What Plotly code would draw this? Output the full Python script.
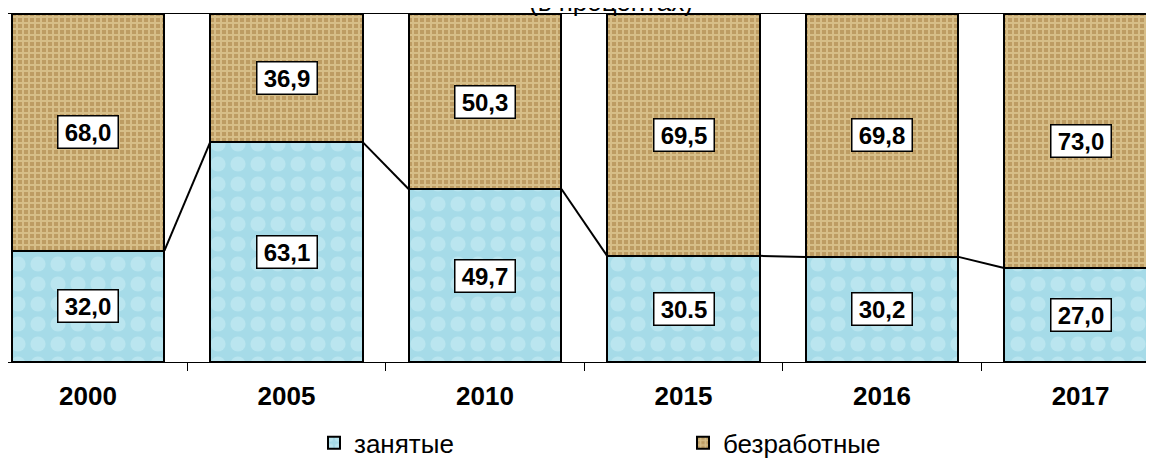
import plotly.graph_objects as go

# data
years = ["2000", "2005", "2010", "2015", "2016", "2017"]
employed = [32.0, 63.1, 49.7, 30.5, 30.2, 27.0]
unemployed = [68.0, 36.9, 50.3, 69.5, 69.8, 73.0]
employed_labels = ["32,0", "63,1", "49,7", "30.5", "30,2", "27,0"]
unemployed_labels = ["68,0", "36,9", "50,3", "69,5", "69,8", "73,0"]

BARGAP = 0.23
XRANGE = [-0.403, 5.37]
FONT = "Liberation Sans, Arial, sans-serif"

fig = go.Figure()

fig.add_trace(go.Bar(
    x=years, y=employed, name="занятые", legend="legend",
    marker=dict(color="#a6dbe8", line=dict(color="black", width=2),
                pattern=dict(shape=".", fgcolor="#cdeff6", bgcolor="#a6dbe8",
                             size=20, solidity=0.45, fillmode="overlay")),
))
fig.add_trace(go.Bar(
    x=years, y=unemployed, name="безработные", legend="legend2",
    marker=dict(color="#c2a263", line=dict(color="black", width=2),
                pattern=dict(shape="+", fgcolor="#f0dfae", bgcolor="#bd9c63",
                             size=6, solidity=0.55, fillmode="overlay")),
))

# series lines joining the tops of the lower segments
half = (1 - BARGAP) / 2
lx, ly = [], []
for i in range(len(years) - 1):
    lx += [i + half, i + 1 - half, None]
    ly += [employed[i], employed[i + 1], None]
fig.add_trace(go.Scatter(x=lx, y=ly, mode="lines", xaxis="x2",
                         line=dict(color="black", width=2),
                         showlegend=False, hoverinfo="skip"))

# boxed value labels (x given as category index)
box = dict(showarrow=False, bgcolor="white", bordercolor="black", borderwidth=1.5,
           borderpad=0, width=59, height=31, font=dict(size=24, color="black"))
for i in range(len(years)):
    fig.add_annotation(x=i, y=employed[i] / 2,
                       text="<b>%s</b>" % employed_labels[i], **box)
    fig.add_annotation(x=i, y=employed[i] + unemployed[i] / 2,
                       text="<b>%s</b>" % unemployed_labels[i], **box)

# title, mostly cut off at the top
fig.add_annotation(x=603 / 1146, y=1, xref="paper", yref="paper",
                   xanchor="center", yanchor="bottom", yshift=-5,
                   text="(в процентах)", showarrow=False,
                   font=dict(size=26, color="black"))

# page body adds an 8px offset, so the figure is 8px smaller each way
fig.update_layout(
    width=1146, height=452,
    margin=dict(l=0, r=0, t=6, b=98, autoexpand=False),
    barmode="stack", bargap=BARGAP,
    plot_bgcolor="white", paper_bgcolor="white",
    font=dict(family=FONT, color="black"),
    xaxis=dict(type="category", range=XRANGE, showline=True, linecolor="black",
               linewidth=1, mirror=True, ticks="outside", tickson="boundaries",
               ticklen=8, tickcolor="black", ticklabelstandoff=11,
               tickvals=years, ticktext=["<b>%s</b>" % y for y in years],
               tickfont=dict(size=26), showgrid=False, automargin=False),
    xaxis2=dict(overlaying="x", range=XRANGE, visible=False),
    yaxis=dict(range=[0, 100], visible=False, showgrid=False),
    legend=dict(orientation="h", x=0.267, y=-0.232, xanchor="left", yanchor="middle",
                font=dict(size=26), bgcolor="rgba(0,0,0,0)"),
    legend2=dict(orientation="h", x=0.589, y=-0.232, xanchor="left", yanchor="middle",
                 font=dict(size=26), bgcolor="rgba(0,0,0,0)"),
    showlegend=True,
)

fig.write_html("out.html")
